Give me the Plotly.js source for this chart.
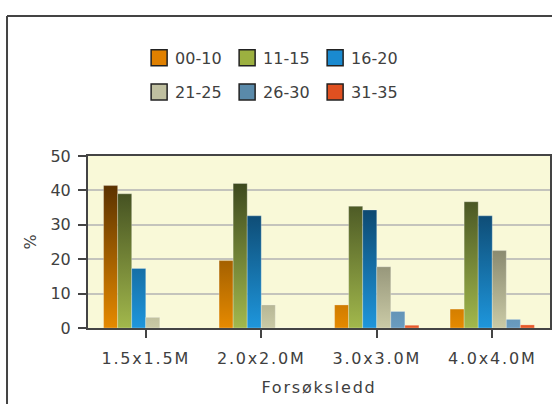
<!DOCTYPE html>
<html>
<head>
<meta charset="utf-8">
<script src="https://cdn.plot.ly/plotly-3.0.1.min.js"></script>
<style>
  html, body { margin: 0; padding: 0; background: #fff; }
  #chart { width: 552px; height: 404px; }
  #chart .xtick text, #chart .g-xtitle text { letter-spacing: 1.8px; }
</style>
</head>
<body>
<div id="chart"></div>
<script>
// Plant spacing treatments on the x axis
const categories = ['1.5x1.5M', '2.0x2.0M', '3.0x3.0M', '4.0x4.0M'];

// Size classes (legend entries)
const seriesNames = ['00-10', '11-15', '16-20', '21-25', '26-30', '31-35'];

// Share of plants (%) per size class, one value per spacing
const pct_00_10 = [41.4, 19.6, 6.7, 5.5];
const pct_11_15 = [39.0, 42.0, 35.4, 36.7];
const pct_16_20 = [17.3, 32.6, 34.3, 32.6];
const pct_21_25 = [3.1, 6.7, 17.8, 22.5];
const pct_26_30 = [0, 0, 4.8, 2.5];
const pct_31_35 = [0, 0, 0.8, 0.9];

const seriesValues = [pct_00_10, pct_11_15, pct_16_20, pct_21_25, pct_26_30, pct_31_35];

// Bar colours: bright at the baseline, dark towards the top of the plot
const baseColors = ['#e68a00', '#a2b84c', '#1e96dc', '#cacaa6', '#6a9cc0', '#e85a28'];
const topColors  = ['#3e2000', '#2b3516', '#062640', '#3c3c2e', '#284660', '#782808'];
const legendColors = ['#e08000', '#9cb040', '#1a8ad0', '#c0c0a0', '#5a8aaa', '#e05020'];

const FONT = 'DejaVu Sans, Verdana, sans-serif';
const TEXT = '#404040';

const data = seriesNames.map((name, i) => ({
  type: 'bar',
  name: name,
  x: categories,
  y: seriesValues[i],
  legend: i < 3 ? 'legend' : 'legend2',
  marker: { color: legendColors[i], line: { width: 1, color: 'rgba(255,255,255,0.25)' } },
  hoverinfo: 'skip'
}));

// Border around the whole chart panel
const border = { color: '#444', width: 2 };
const shapes = [
  { type: 'line', xref: 'paper', yref: 'paper', x0: -0.1753, x1: -0.1753, y0: -0.45, y1: 1.814, line: border },
  { type: 'line', xref: 'paper', yref: 'paper', x0: -0.1753, x1: 1.01, y0: 1.814, y1: 1.814, line: border }
];

const legendBase = {
  orientation: 'h',
  xanchor: 'left',
  yanchor: 'middle',
  bgcolor: 'rgba(0,0,0,0)',
  borderwidth: 0,
  font: { family: FONT, size: 16, color: TEXT },
  entrywidth: 43,
  entrywidthmode: 'pixels',
  traceorder: 'normal'
};

const layout = {
  width: 552,
  height: 404,
  margin: { l: 88, r: 2, t: 156, b: 76 },
  paper_bgcolor: '#ffffff',
  plot_bgcolor: '#f9f9d8',
  barmode: 'group',
  bargap: 0.27,
  bargroupgap: 0,
  showlegend: true,
  legend: Object.assign({}, legendBase, { x: 0.102, y: 1.57 }),
  legend2: Object.assign({}, legendBase, { x: 0.102, y: 1.372 }),
  xaxis: {
    type: 'category',
    showline: true, mirror: true, linecolor: '#444', linewidth: 2,
    ticks: 'outside', ticklen: 8, tickwidth: 2, tickcolor: '#444',
    ticklabelstandoff: 7,
    tickfont: { family: FONT, size: 16, color: TEXT },
    showgrid: false,
    title: { text: 'Forsøksledd', font: { family: FONT, size: 16, color: TEXT }, standoff: 15 }
  },
  yaxis: {
    range: [0, 50], dtick: 10, tick0: 0,
    showline: true, mirror: true, linecolor: '#444', linewidth: 2,
    ticks: 'outside', ticklen: 8, tickwidth: 2, tickcolor: '#444',
    ticklabelstandoff: 4,
    tickfont: { family: FONT, size: 16, color: TEXT },
    showgrid: true, gridcolor: '#c4c4bc', gridwidth: 2,
    zeroline: false,
    title: { text: '%', font: { family: FONT, size: 16, color: TEXT }, standoff: 10 }
  },
  shapes: shapes
};

const config = { staticPlot: true, displayModeBar: false };

const ns = 'http://www.w3.org/2000/svg';

// Vertical gradient shared across the plot height for each series
function paintBars(gd) {
  const svg = gd.querySelector('svg.main-svg');
  let defs = svg.querySelector('defs');
  if (!defs) { defs = document.createElementNS(ns, 'defs'); svg.insertBefore(defs, svg.firstChild); }
  const ya = gd._fullLayout.yaxis;
  const yBottom = ya.l2p(ya.range[0]);
  const yTop = ya.l2p(ya.range[1]);
  gd.querySelectorAll('.barlayer .trace').forEach((tr, i) => {
    const id = 'barGrad' + i;
    let grad = svg.querySelector('#' + id);
    if (!grad) {
      grad = document.createElementNS(ns, 'linearGradient');
      grad.setAttribute('id', id);
      grad.setAttribute('gradientUnits', 'userSpaceOnUse');
      [[0, baseColors[i]], [1, topColors[i]]].forEach(([off, col]) => {
        const st = document.createElementNS(ns, 'stop');
        st.setAttribute('offset', off);
        st.setAttribute('stop-color', col);
        grad.appendChild(st);
      });
      defs.appendChild(grad);
    }
    grad.setAttribute('x1', 0); grad.setAttribute('x2', 0);
    grad.setAttribute('y1', yBottom); grad.setAttribute('y2', yTop);
    tr.querySelectorAll('path').forEach(p => { p.style.fill = 'url(#' + id + ')'; });
  });
}

// Larger outlined legend swatches, nudged towards their labels
function styleLegend(gd) {
  gd.querySelectorAll('.legendpoints path').forEach(p => {
    p.setAttribute('d', 'M12,8H-4V-8H12Z');
    p.style.stroke = '#222222';
    p.style.strokeWidth = '1.5px';
    p.style.strokeOpacity = '1';
  });
}

function finish(gd) { paintBars(gd); styleLegend(gd); }

Plotly.newPlot('chart', data, layout, config).then(gd => {
  finish(gd);
  gd.on('plotly_afterplot', () => finish(gd));
  setTimeout(() => finish(gd), 50);
});
</script>
</body>
</html>
